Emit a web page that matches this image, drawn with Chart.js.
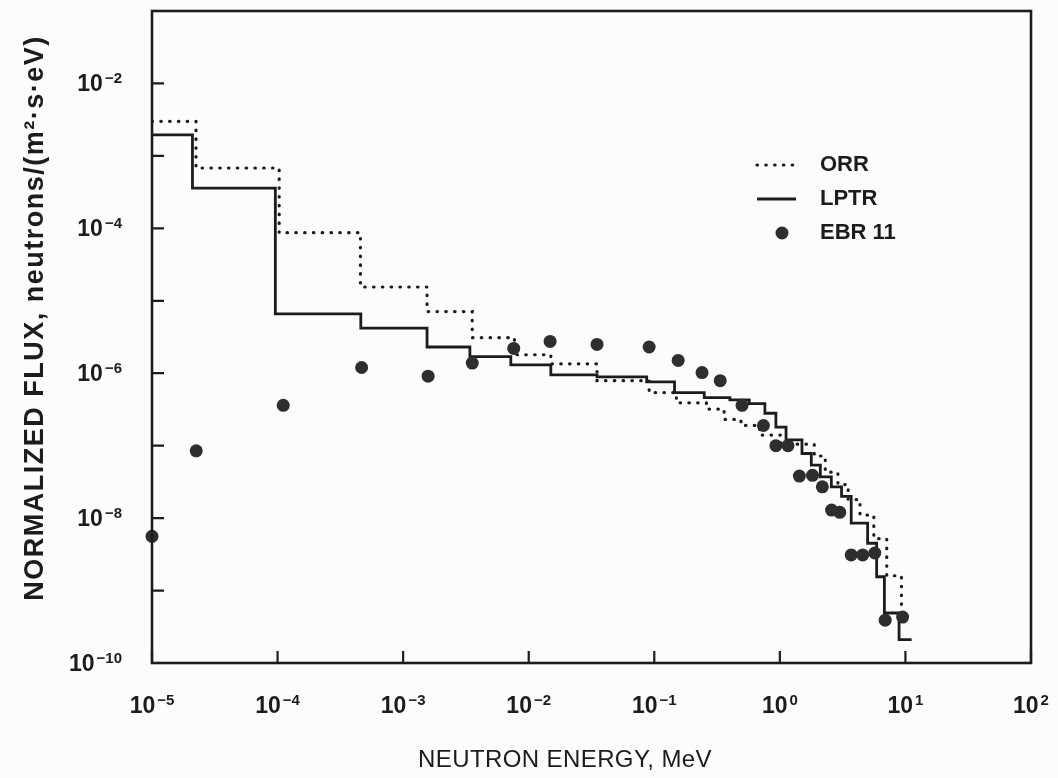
<!DOCTYPE html>
<html>
<head>
<meta charset="utf-8">
<title>Neutron flux spectra</title>
<script src="https://cdn.jsdelivr.net/npm/chart.js@4.4.1/dist/chart.umd.min.js"></script>
<style>
    html, body { margin: 0; padding: 0; background: #fcfcfc; }
    #wrap { width: 1058px; height: 778px; }
</style>
</head>
<body>
<div id="wrap"><canvas id="fluxChart" width="1058" height="778"></canvas></div>
<script>
// ORR histogram: bin edges (MeV) and flux for each bin
const orrEdges = [1e-5, 2.24e-5, 1.03e-4, 4.57e-4, 1.55e-3, 3.55e-3, 7.7e-3, 1.5e-2, 3.5e-2, 9.1e-2,
    0.15, 0.26, 0.36, 0.49, 0.69, 1.02, 1.88, 2.3, 2.9, 3.5, 4.35, 5.6, 7.1, 9.3];
const orrFlux = [3.0e-3, 6.8e-4, 8.7e-5, 1.55e-5, 7.1e-6, 3.1e-6, 1.8e-6, 1.35e-6, 7.9e-7,
    5.4e-7, 3.9e-7, 3.2e-7, 2.3e-7, 1.9e-7, 1.4e-7, 1.05e-7, 7.2e-8, 4.3e-8, 2.9e-8, 1.8e-8,
    1.1e-8, 5.2e-9, 1.6e-9];
const orrTail = 4.5e-10;

// LPTR histogram
const lptrEdges = [1e-5, 2.1e-5, 9.6e-5, 4.6e-4, 1.55e-3, 3.4e-3, 7.2e-3, 1.5e-2, 3.5e-2, 8.7e-2,
    0.145, 0.25, 0.40, 0.57, 0.76, 0.93, 1.12, 1.5, 1.78, 2.1, 2.57, 3.1, 3.7, 5.0, 5.9, 6.8, 8.9, 11.2];
const lptrFlux = [1.95e-3, 3.6e-4, 6.6e-6, 4.2e-6, 2.3e-6, 1.7e-6, 1.3e-6, 9.5e-7, 8.9e-7,
    7.6e-7, 5.4e-7, 4.6e-7, 4.3e-7, 3.8e-7, 2.8e-7, 1.8e-7, 1.2e-7, 7.8e-8, 5.4e-8, 3.7e-8,
    2.7e-8, 2.0e-8, 8.5e-9, 4.5e-9, 1.55e-9, 4.9e-10, 2.1e-10];

// EBR II points
const ebrEnergy = [1.0e-5, 2.25e-5, 1.11e-4, 4.67e-4, 1.58e-3, 3.55e-3, 7.6e-3, 1.48e-2, 3.5e-2,
    9.1e-2, 0.155, 0.24, 0.335, 0.50, 0.74, 0.93, 1.16, 1.43, 1.82, 2.18, 2.58, 3.0, 3.7, 4.57,
    5.7, 6.9, 9.5];
const ebrFlux = [5.6e-9, 8.5e-8, 3.6e-7, 1.2e-6, 9.1e-7, 1.38e-6, 2.2e-6, 2.75e-6, 2.5e-6,
    2.3e-6, 1.5e-6, 1.02e-6, 7.9e-7, 3.6e-7, 1.9e-7, 1.0e-7, 1.0e-7, 3.8e-8, 3.9e-8, 2.7e-8,
    1.29e-8, 1.2e-8, 3.1e-9, 3.1e-9, 3.3e-9, 3.9e-10, 4.3e-10];

// tick exponents
const xTickExps = [-5, -4, -3, -2, -1, 0, 1, 2];
const yTickExps = [-10, -9, -8, -7, -6, -5, -4, -3, -2, -1];
const yLabelExps = [-10, -8, -6, -4, -2];

const xTitle = 'NEUTRON ENERGY, MeV';
const yTitle = 'NORMALIZED FLUX, neutrons/(m²·s·eV)';

const ink = '#1c1c1c';
const labelFont = '"Liberation Sans", Arial, "DejaVu Sans", sans-serif';

// histogram -> points for a stepped line
function stepPoints(edges, flux, tail) {
    const pts = flux.map((v, i) => ({ x: edges[i], y: v }));
    pts.push({ x: edges[edges.length - 1], y: flux[flux.length - 1] });
    if (tail) pts.push({ x: edges[edges.length - 1], y: tail });
    return pts;
}

// "10" with a raised exponent
function drawDecade(ctx, exp, x, baseY, align) {
    const sup = (exp < 0 ? '\u2212' : '') + Math.abs(exp);
    ctx.font = 'bold 23px ' + labelFont;
    const wb = ctx.measureText('10').width;
    ctx.font = 'bold 15px ' + labelFont;
    const ws = ctx.measureText(sup).width;
    const total = wb + 2 + ws;
    const x0 = align === 'center' ? x - total / 2 : x - total;
    ctx.font = 'bold 23px ' + labelFont;
    ctx.fillText('10', x0, baseY);
    ctx.font = 'bold 15px ' + labelFont;
    ctx.fillText(sup, x0 + wb + 2, baseY - 8);
}

// frame, inward ticks, tick labels, titles and legend
const framePlugin = {
    id: 'frame',
    afterDraw(chart) {
        const { ctx, chartArea: a } = chart;
        const xs = chart.scales.x, ys = chart.scales.y;
        ctx.save();
        ctx.strokeStyle = ink;
        ctx.fillStyle = ink;
        ctx.lineWidth = 2.6;
        ctx.strokeRect(a.left, a.top, a.right - a.left, a.bottom - a.top);
        ctx.lineWidth = 2.2;
        ctx.beginPath();
        xTickExps.forEach(e => {
            const px = xs.getPixelForValue(10 ** e);
            ctx.moveTo(px, a.bottom);
            ctx.lineTo(px, a.bottom - 12);
        });
        yTickExps.forEach(e => {
            const py = ys.getPixelForValue(10 ** e);
            ctx.moveTo(a.left, py);
            ctx.lineTo(a.left + 12, py);
        });
        ctx.stroke();

        // tick labels
        ctx.textBaseline = 'alphabetic';
        ctx.textAlign = 'left';
        xTickExps.forEach(e => {
            drawDecade(ctx, e, xs.getPixelForValue(10 ** e), a.bottom + 50, 'center');
        });
        yLabelExps.forEach(e => {
            drawDecade(ctx, e, a.left - 30, ys.getPixelForValue(10 ** e) + 8, 'right');
        });

        // axis titles
        ctx.textAlign = 'center';
        ctx.textBaseline = 'middle';
        ctx.letterSpacing = '0.4px';
        ctx.font = '24px ' + labelFont;
        ctx.fillText(xTitle, 565, 760);
        ctx.save();
        ctx.translate(36, 318);
        ctx.rotate(-Math.PI / 2);
        ctx.letterSpacing = '1.5px';
        ctx.font = 'bold 27px ' + labelFont;
        ctx.fillText(yTitle, 0, 0);
        ctx.restore();
        ctx.letterSpacing = '0px';

        // legend
        const rows = [165, 199, 233];
        ctx.textAlign = 'left';
        ctx.font = 'bold 22px ' + labelFont;
        chart.data.datasets.forEach(ds => {
            const y = rows[ds.legendRow];
            if (ds.showLine) {
                ctx.save();
                ctx.strokeStyle = ds.borderColor;
                ctx.lineWidth = ds.borderWidth;
                ctx.lineCap = ds.borderCapStyle || 'butt';
                ctx.setLineDash(ds.borderDash || []);
                ctx.beginPath();
                ctx.moveTo(757, y);
                ctx.lineTo(796, y);
                ctx.stroke();
                ctx.restore();
            } else {
                ctx.beginPath();
                ctx.arc(782, y, ds.pointRadius, 0, Math.PI * 2);
                ctx.fillStyle = ds.backgroundColor;
                ctx.fill();
                ctx.fillStyle = ink;
            }
            ctx.fillText(ds.label, 820, y);
        });
        ctx.restore();
    }
};

const ctx = document.getElementById('fluxChart').getContext('2d');

new Chart(ctx, {
    type: 'scatter',
    data: {
        datasets: [
            {
                label: 'EBR 11',
                legendRow: 2,
                data: ebrEnergy.map((e, i) => ({ x: e, y: ebrFlux[i] })),
                showLine: false,
                pointRadius: 6.5,
                pointBorderWidth: 0,
                backgroundColor: '#2e2e2e',
                borderColor: '#2e2e2e',
                clip: false,
                order: 0
            },
            {
                label: 'LPTR',
                legendRow: 1,
                data: stepPoints(lptrEdges, lptrFlux),
                showLine: true,
                stepped: 'before',
                borderColor: ink,
                borderWidth: 2.8,
                pointRadius: 0,
                fill: false,
                order: 1
            },
            {
                label: 'ORR',
                legendRow: 0,
                data: stepPoints(orrEdges, orrFlux, orrTail),
                showLine: true,
                stepped: 'before',
                borderColor: ink,
                borderWidth: 3.2,
                borderDash: [0.5, 8.3],
                borderCapStyle: 'round',
                pointRadius: 0,
                fill: false,
                order: 2
            }
        ]
    },
    options: {
        responsive: false,
        animation: false,
        layout: { padding: { top: 11, right: 27, left: 0, bottom: 0 } },
        plugins: {
            legend: { display: false },
            tooltip: { enabled: false }
        },
        scales: {
            x: {
                type: 'logarithmic',
                min: 1e-5,
                max: 1e2,
                afterBuildTicks: scale => {
                    scale.ticks = xTickExps.map(e => ({ value: 10 ** e }));
                },
                afterFit: scale => {
                    scale.height = 115;
                    scale.paddingLeft = 0;
                    scale.paddingRight = 0;
                },
                grid: { display: false, drawTicks: false },
                border: { display: false },
                ticks: { display: false }
            },
            y: {
                type: 'logarithmic',
                min: 1e-10,
                max: 1e-1,
                afterBuildTicks: scale => {
                    scale.ticks = yTickExps.map(e => ({ value: 10 ** e }));
                },
                afterFit: scale => {
                    scale.width = 152;
                    scale.paddingTop = 0;
                    scale.paddingBottom = 0;
                },
                grid: { display: false, drawTicks: false },
                border: { display: false },
                ticks: { display: false }
            }
        }
    },
    plugins: [framePlugin]
});
</script>
</body>
</html>
